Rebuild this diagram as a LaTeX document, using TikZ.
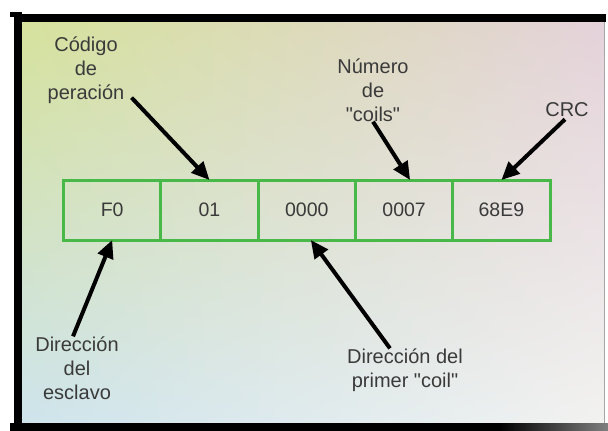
\documentclass[tikz,border=0pt]{standalone}
\usepackage{fontspec}
\setmainfont{Liberation Sans}
\usetikzlibrary{arrows.meta,calc,positioning,shadings}
\definecolor{fieldgreen}{RGB}{72,184,72}
\definecolor{notegray}{RGB}{58,58,58}
\definecolor{bgTL}{RGB}{214,226,156}
\definecolor{bgTR}{RGB}{228,210,218}
\definecolor{bgBL}{RGB}{206,228,236}
\definecolor{bgBR}{RGB}{242,242,240}
\tikzset{
	field/.style={draw=fieldgreen, line width=3pt, minimum width=97.3pt, minimum height=60pt, inner sep=0pt, outer sep=0pt, text=notegray, font=\fontsize{19.5}{24}\selectfont},
	note/.style={align=center, inner sep=0pt, text=notegray, font=\fontsize{20}{24}\selectfont},
	pointer/.style={line width=4pt, -{Triangle[length=18pt,width=16pt]}}
}

\begin{document}
\begin{tikzpicture}[x=1pt, y=-1pt]
			%%%%% START %%%%%
			
			\useasboundingbox (0, 0) rectangle (608, 431);
			
			\shade[upper left=bgTL, upper right=bgTR, lower left=bgBL, lower right=bgBR] (22, 22) rectangle (604, 423);
			
			\fill (10, 12) rectangle (22, 17);
			\fill (14, 14) rectangle (606, 22);
			\fill (14, 14) rectangle (22, 431);
			\fill (10, 423) rectangle (500, 431);
			\shade[left color=black, right color=black!50] (499, 423) rectangle (608, 431);
			\draw[line width=1pt, color=black!35] (604, 22) -- (604, 423);
			
			\node[field] (f1) at (112.2, 210) {F0};
			\node[field, right=0pt of f1] (f2) {01};
			\node[field, right=0pt of f2] (f3) {0000};
			\node[field, right=0pt of f3] (f4) {0007};
			\node[field, right=0pt of f4] (f5) {68E9};
			
			\node[note] (cod) at (86, 70) {Código\\de\\peración};
			\node[note] (num) at (373, 90) {Número\\de\\\textquotedbl coils\textquotedbl};
			\node[note] (crc) at (567, 110) {CRC};
			\node[note] (esc) at (77, 368) {Dirección\\del\\esclavo};
			\node[note] (pri) at (405, 370) {Dirección del\\primer \textquotedbl coil\textquotedbl};
			
			\draw[pointer] ($(cod.south east)+(7,-6)$) -- (f2.north);
			\draw[pointer] (num.south) -- ($(f4.north)+(6,0)$);
			\draw[pointer] ($(crc.south)+(-2,2)$) -- (f5.north);
			\draw[pointer] ($(esc.north)+(-4,0)$) -- (f1.south);
			\draw[pointer] ($(pri.north)+(-15,0)$) -- ($(f3.south)+(4,0)$);
			
			%%%%% END %%%%%
		\end{tikzpicture}
\end{document}
